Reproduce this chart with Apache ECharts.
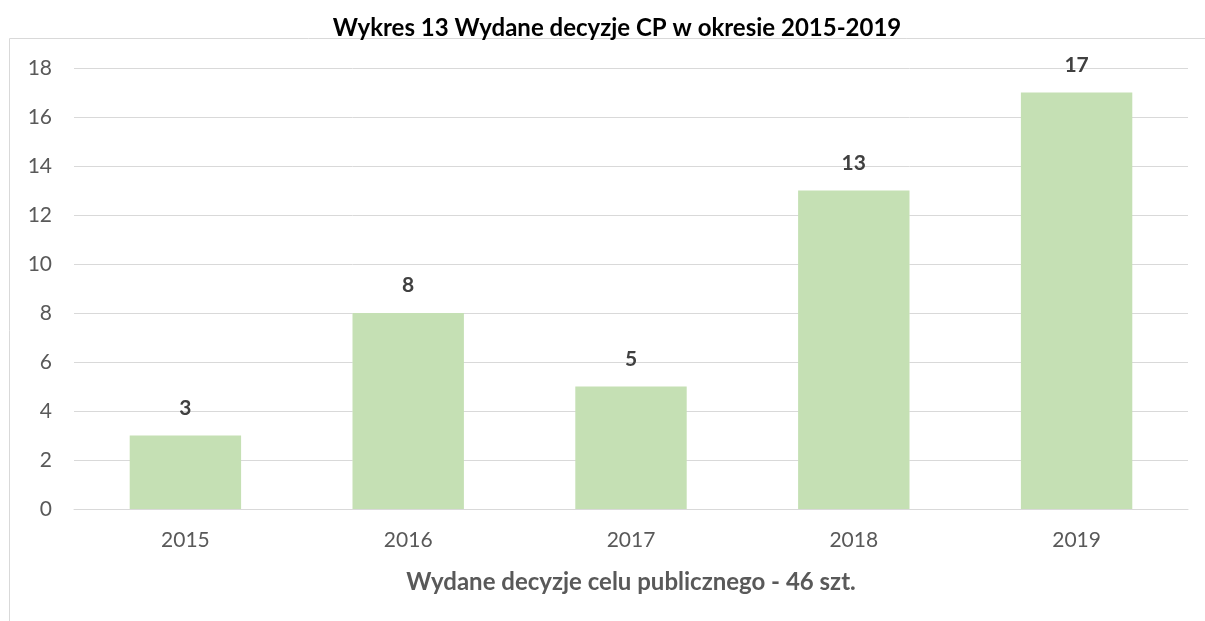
<!DOCTYPE html>
<html><head><meta charset="utf-8">
<script src="https://cdn.jsdelivr.net/npm/echarts@6/dist/echarts.min.js"></script>
<style>html,body{margin:0;padding:0;background:#fff}#c{width:1205px;height:621px}</style>
</head><body><div id="c"></div>
<script>
const categories = ['2015','2016','2017','2018','2019'];
const values = [3, 8, 5, 13, 17];
const yTicks = {min: 0, max: 18, interval: 2};
const titleText = 'Wykres 13 Wydane decyzje CP w okresie 2015-2019';
const xName = 'Wydane decyzje celu publicznego - 46 szt.';

const chart = echarts.init(document.getElementById('c'));
const font = 'Lato, "Open Sans", sans-serif';
chart.setOption({
  animation: false,
  title: {text: titleText, left: 612, textAlign: 'center', top: 11,
    textStyle: {fontFamily: font, fontWeight: 'bold', fontSize: 24, color: '#000'}},
  graphic: [{type: 'rect', shape: {x: 9.5, y: 38.5, width: 1300, height: 700},
    style: {fill: 'none', stroke: '#D9D9D9', lineWidth: 1}, silent: true}],
  grid: {left: 74, right: 17, top: 68, bottom: 112},
  xAxis: {type: 'category', data: categories,
    axisLine: {show: true, lineStyle: {color: '#D9D9D9'}},
    axisTick: {show: false},
    axisLabel: {fontFamily: font, fontSize: 21, color: '#595959', margin: 21},
    name: xName, nameLocation: 'middle', nameGap: 61,
    nameTextStyle: {fontFamily: font, fontWeight: 'bold', fontSize: 24, color: '#595959'}},
  yAxis: {type: 'value', min: yTicks.min, max: yTicks.max, interval: yTicks.interval,
    axisLine: {show: false}, axisTick: {show: false},
    splitLine: {lineStyle: {color: '#D9D9D9'}},
    axisLabel: {fontFamily: font, fontSize: 21, color: '#595959', margin: 22}},
  series: [{type: 'bar', data: values, barWidth: '50%',
    itemStyle: {color: '#C5E0B4'},
    label: {show: true, position: 'top', distance: 17, fontFamily: font, fontWeight: 'bold', fontSize: 21, color: '#404040'}}]
});
</script></body></html>
